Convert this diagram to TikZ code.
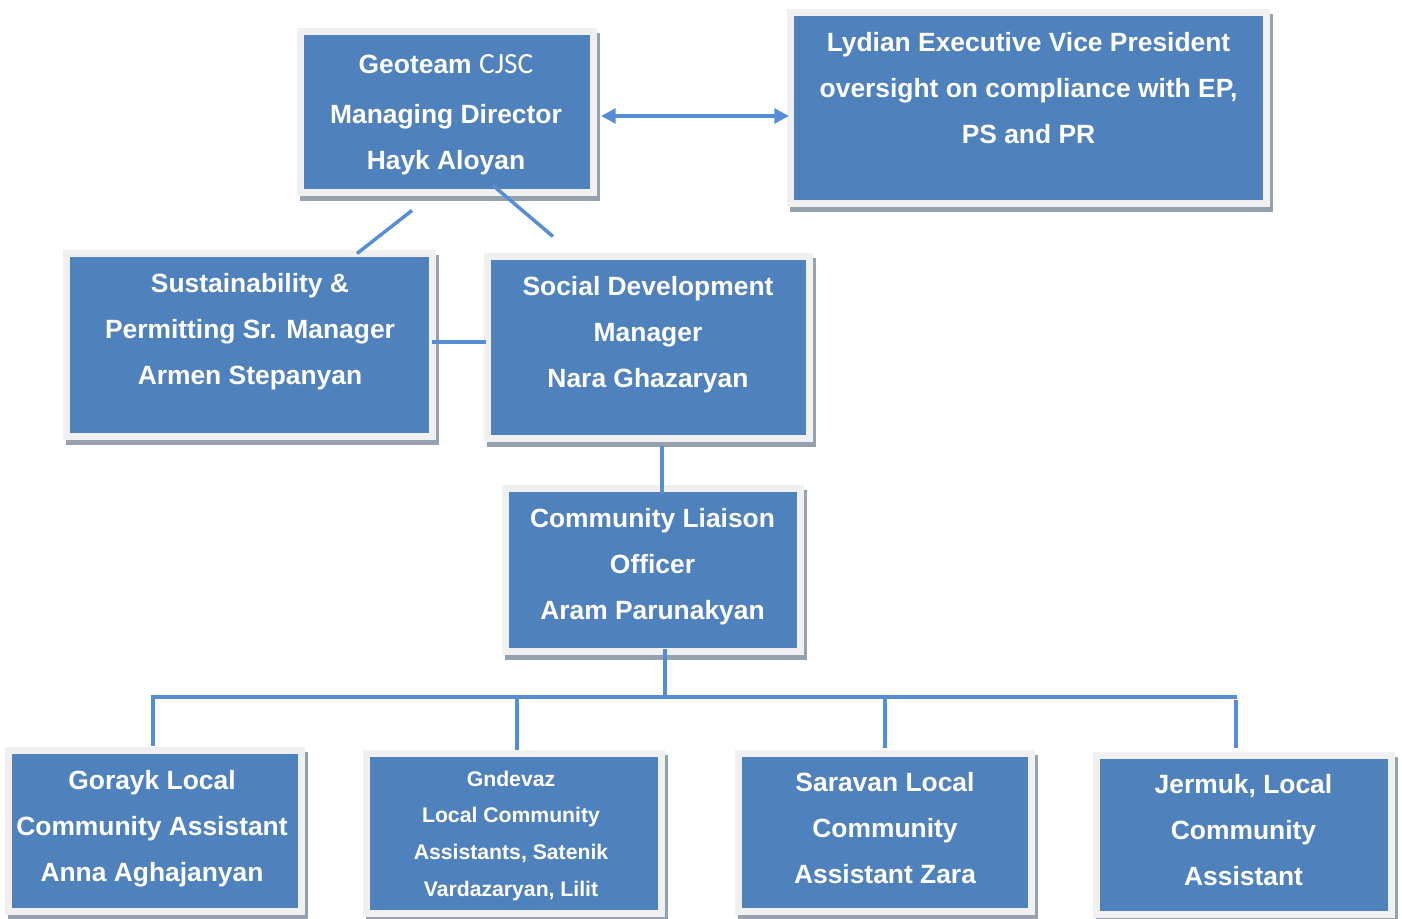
\documentclass[tikz,border=0pt]{standalone}
\usepackage{fontspec}
\setmainfont{Liberation Sans}
\newfontfamily\carlitofont{Carlito}
\usetikzlibrary{arrows.meta,calc}
\definecolor{boxblue}{HTML}{4F81BD}
\definecolor{framegray}{HTML}{F0F0F0}
\definecolor{shadowgray}{HTML}{96A1B0}
\definecolor{linkblue}{HTML}{558ED5}
\newcommand\orgfont{\fontsize{19.8pt}{34.5pt}\selectfont\bfseries}
\newcommand\orgsmallfont{\fontsize{15.9pt}{27.5pt}\selectfont\bfseries}
\begin{document}
\begin{tikzpicture}[x=0.75pt,y=-0.75pt,
  orgbox/.style={fill=boxblue, draw=framegray, line width=5.25pt, inner sep=0pt,
    preaction={fill=shadowgray, draw=shadowgray, line width=5.25pt,
      transform canvas={xshift=2.6pt,yshift=-4pt}}},
  sz/.style 2 args={minimum width=#1*0.75pt, minimum height=#2*0.75pt},
  orgtext/.style={text=white, align=center, inner sep=0pt, font=\orgfont,
    execute at begin node=\strut, execute at end node=\strut},
  orgsmall/.style={orgtext, font=\orgsmallfont},
  conn/.style={draw=linkblue, line width=2.6pt},
  dblarrow/.style={{Triangle[length=11pt,width=11pt]}-{Triangle[length=11pt,width=11pt]}}
]
\fill[white] (0,0) rectangle (1402,919);
\useasboundingbox (0,0) rectangle (1402,919);

% boxes
\node[orgbox, sz={293}{161}] (geo) at (447,112) {};
\node[orgbox, sz={476}{191}] (lyd) at (1028.5,108) {};
\node[orgbox, sz={366}{183}] (sus) at (249.5,345) {};
\node[orgbox, sz={322}{182}] (soc) at (648.5,347.5) {};
\node[orgbox, sz={295}{163}] (clo) at (653,570) {};
\node[orgbox, sz={293}{161}] (gor) at (155,831) {};
\node[orgbox, sz={295}{160}] (gnd) at (514,833.5) {};
\node[orgbox, sz={293}{158}] (sar) at (885,832.5) {};
\node[orgbox, sz={295}{159}] (jer) at (1244,835) {};

% texts
\node[orgtext] (geo-t) at (446,118.4) {Geoteam {\carlitofont\mdseries\fontsize{22pt}{34.5pt}\selectfont CJSC}\\[3pt]Managing Director\\Hayk Aloyan};
\node[orgtext] (lyd-t) at (1028.5,94.5) {Lydian Executive Vice President\\oversight on compliance with EP,\\PS and PR};
\node[orgtext] (sus-t) at (250,336) {Sustainability \&\\Permitting Sr. Manager\\Armen Stepanyan};
\node[orgtext] (soc-t) at (648,339) {Social Development\\Manager\\Nara Ghazaryan};
\node[orgtext] (clo-t) at (652.5,571) {Community Liaison\\Officer\\Aram Parunakyan};
\node[orgtext] (gor-t) at (152,833) {Gorayk Local\\Community Assistant\\Anna Aghajanyan};
\node[orgsmall] (gnd-t) at (511,839) {Gndevaz\\Local Community\\Assistants, Satenik\\Vardazaryan, Lilit};
\node[orgtext] (sar-t) at (885,835) {Saravan Local\\Community\\Assistant Zara};
\node[orgtext] (jer-t) at (1243.5,837) {Jermuk, Local\\Community\\Assistant};

% connectors
\draw[conn, dblarrow] ($(geo.east)+(4,4)$) -- ($(lyd.west)+(2,8)$);
\draw[conn] ($(geo.south)+(-35,14.5)$) -- ($(sus.north)+(107.5,3.5)$);
\draw[conn] ($(geo.south)+(46,-10.5)$) -- ($(soc.north)+(-95.5,-16.5)$);
\draw[conn] ($(sus.east)+(-4,-3)$) -- ($(soc.west)+(1.5,-5.5)$);
\draw[conn] ($(soc.south)+(13.5,4.5)$) -- ($(clo.north)+(9,8.5)$);

\coordinate (busL) at (153,697);
\coordinate (busR) at (1237,697);
\coordinate (busC) at (665,697);
\draw[conn] ($(clo.south)+(12,-6)$) -- (busC);
\draw[conn] ($(gor.north)+(-2,-1.5)$) -- (busL) -- (busR);
\draw[conn] ($(gnd.north)+(3,0)$) coordinate (g1) -- (g1 |- busL);
\draw[conn] ($(sar.north)+(0,-2.5)$) coordinate (s1) -- (s1 |- busL);
\draw[conn] ($(jer.north)+(-8,-4.5)$) coordinate (j1) -- ($(j1 |- busL)+(0,3)$);
\end{tikzpicture}
\end{document}
